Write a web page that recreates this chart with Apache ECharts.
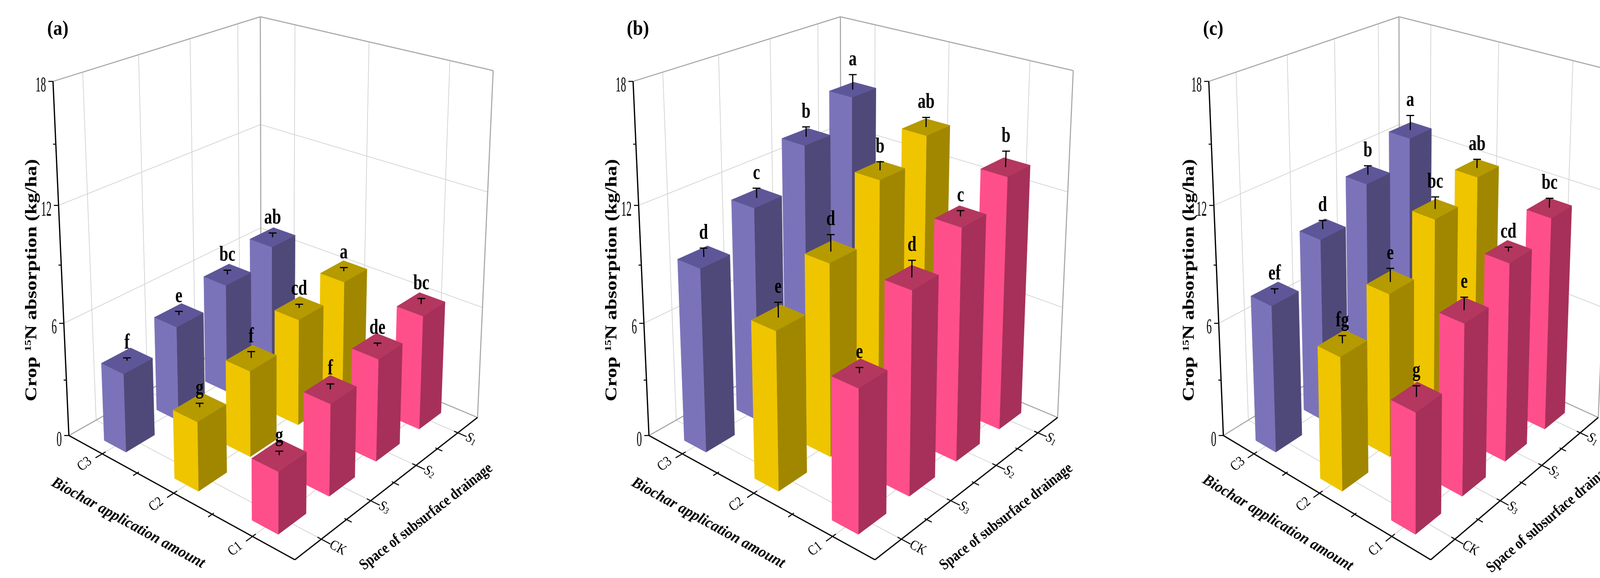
<!DOCTYPE html>
<html>
<head>
<meta charset="utf-8">
<script src="https://cdn.jsdelivr.net/npm/echarts@6.0.0/dist/echarts.min.js"></script>
<style>
html,body{margin:0;padding:0;background:#ffffff;overflow:hidden;}
#main{width:4282px;height:1479px;}
</style>
</head>
<body>
<div id="main"></div>
<script>
// ================= DATA =================
const biocharLevels = ['C3', 'C2', 'C1'];          // x axis (front-left)
const drainageLevels = ['CK', 'S3', 'S2', 'S1'];   // y axis (front-right)
const zAxisTicks = [0, 6, 12, 18];
const zAxisMinorTicks = [3, 9, 15];
const zAxisMax = 18;
const panelLabels = ['(a)', '(b)', '(c)'];
const biocharTitle = 'Biochar application amount';
const drainageTitle = 'Space of subsurface drainage';

// Panel (a): values per biochar level, across CK, S3, S2, S1
const a_C3 = [4.14, 5.10, 5.95, 6.77];
const a_C2 = [3.54, 4.50, 5.68, 6.32];
const a_C1 = [3.08, 4.67, 5.33, 6.08];
const a_C3_err = [0.15, 0.2, 0.24, 0.24];
const a_C2_err = [0.2, 0.33, 0.2, 0.2];
const a_C1_err = [0.2, 0.27, 0.15, 0.3];
const a_C3_sig = ['f', 'e', 'bc', 'ab'];
const a_C2_sig = ['g', 'f', 'cd', 'a'];
const a_C1_sig = ['g', 'f', 'de', 'bc'];

// Panel (b)
const b_C3 = [9.50, 11.30, 13.40, 14.95];
const b_C2 = [8.03, 9.95, 12.87, 14.05];
const b_C1 = [7.05, 10.17, 11.87, 13.18];
const b_C3_err = [0.45, 0.5, 0.52, 0.8];
const b_C2_err = [0.75, 0.85, 0.43, 0.5];
const b_C1_err = [0.27, 0.82, 0.28, 0.8];
const b_C3_sig = ['d', 'c', 'b', 'a'];
const b_C2_sig = ['e', 'd', 'b', 'ab'];
const b_C1_sig = ['e', 'd', 'c', 'b'];

// Panel (c)
const c_C3 = [7.63, 9.68, 11.39, 12.75];
const c_C2 = [6.76, 8.42, 10.89, 11.90];
const c_C1 = [5.92, 8.59, 10.13, 11.12];
const c_C3_err = [0.25, 0.45, 0.48, 0.8];
const c_C2_err = [0.38, 0.69, 0.62, 0.46];
const c_C1_err = [0.53, 0.63, 0.22, 0.48];
const c_C3_sig = ['ef', 'd', 'b', 'a'];
const c_C2_sig = ['fg', 'e', 'bc', 'ab'];
const c_C1_sig = ['g', 'e', 'cd', 'bc'];

const panelValues = [[a_C3, a_C2, a_C1], [b_C3, b_C2, b_C1], [c_C3, c_C2, c_C1]];
const panelErrors = [[a_C3_err, a_C2_err, a_C1_err], [b_C3_err, b_C2_err, b_C1_err], [c_C3_err, c_C2_err, c_C1_err]];
const panelSig = [[a_C3_sig, a_C2_sig, a_C1_sig], [b_C3_sig, b_C2_sig, b_C1_sig], [c_C3_sig, c_C2_sig, c_C1_sig]];

// ================= STYLE / LAYOUT =================
const ROW_COLORS = [
  { top: '#5d5799', light: '#7b73b9', dark: '#4f4979' },  // C3 purple
  { top: '#b59a00', light: '#efc500', dark: '#a18700' },  // C2 yellow
  { top: '#b3375f', light: '#ff4f8b', dark: '#a6305a' }   // C1 pink
];
const FONT = '"Liberation Serif", "Times New Roman", serif';
const PANEL_OFFSET_X = [0, 1485, 2970];
const PANEL_W = 1430, PANEL_H = 1479;
const BAR_HALF_U = 0.053, BAR_HALF_V = 0.067;
const PANEL_LABEL_POS = [148, 76];
const ZTITLE_POS = [82, 717];
// Calibration of the 3D frame (unit box u,v,w) onto the panel (local px)
const FRAME_ANCHORS = [
  [0,0,0, 177,1113],[0,0,1, 135,208],[0,1,1, 666,42],[1,1,1, 1263,182],[1,1,0, 1222,1068],[1,0,0, 755,1432],
  [0,1,2/3, 666,321],[1,1,2/3, 1248,491],[1,1,1/3, 1234,785],[0,0,2/3, 150,528],[0,0,1/3, 164,830],
  [1,1/8,0, 823,1380],[1,3/8,0, 952,1282],[1,5/8,0, 1067,1192],[1,7/8,0, 1173,1108],
  [1/6,0,0, 261,1160],[1/2,0,0, 443,1263],[5/6,0,0, 643,1370],
  [0,1/8,1, 212,184],[0,3/8,1, 356,139],[0,5/8,1, 488,98],[0,7/8,1, 609,60],
  [1/6,1,1, 755,63],[1/2,1,1, 944,107],[5/6,1,1, 1151,156]
];

// ---- solve projective camera (DLT, p23 = 1) ----
function solveCamera(anchors) {
  const N = 11;
  const M = Array.from({ length: N }, () => new Array(N).fill(0));
  const r = new Array(N).fill(0);
  const add = (row, val) => {
    for (let i = 0; i < N; i++) { r[i] += row[i] * val; for (let j = 0; j < N; j++) M[i][j] += row[i] * row[j]; }
  };
  anchors.forEach(([u, v, w, X, Y]) => {
    const x = X / 1000, y = Y / 1000;
    add([u, v, w, 1, 0, 0, 0, 0, -x * u, -x * v, -x * w], x);
    add([0, 0, 0, 0, u, v, w, 1, -y * u, -y * v, -y * w], y);
  });
  for (let c = 0; c < N; c++) {
    let piv = c;
    for (let k = c + 1; k < N; k++) if (Math.abs(M[k][c]) > Math.abs(M[piv][c])) piv = k;
    [M[c], M[piv]] = [M[piv], M[c]]; [r[c], r[piv]] = [r[piv], r[c]];
    for (let k = 0; k < N; k++) {
      if (k === c) continue;
      const f = M[k][c] / M[c][c];
      if (!f) continue;
      for (let m = c; m < N; m++) M[k][m] -= f * M[c][m];
      r[k] -= f * r[c];
    }
  }
  return r.map((val, i) => val / M[i][i]);
}
const CAM = solveCamera(FRAME_ANCHORS);
function project(u, v, w) {
  const p = CAM;
  const d = p[8] * u + p[9] * v + p[10] * w + 1;
  return [(p[0] * u + p[1] * v + p[2] * w + p[3]) / d * 1000, (p[4] * u + p[5] * v + p[6] * w + p[7]) / d * 1000, d];
}

// ================= RENDER HELPERS =================
function seg(p, q, style, z2) {
  return { type: 'line', z2: z2 || 0, shape: { x1: p[0], y1: p[1], x2: q[0], y2: q[1] }, style: Object.assign({}, style) };
}
function txt(x, y, text, o) {
  const st = { text: text, fill: '#000', align: o.align || 'center', verticalAlign: o.va || 'middle' };
  if (o.font) st.font = o.font;
  if (o.rich) st.rich = o.rich;
  return { type: 'text', x: x, y: y, rotation: o.rot || 0, scaleX: o.sx || 1, scaleY: o.sy || 1, z2: o.z2 || 5, style: st };
}
function area(pts) {
  let s = 0;
  for (let i = 0; i < pts.length; i++) { const a = pts[i], b = pts[(i + 1) % pts.length]; s += a[0] * b[1] - b[0] * a[1]; }
  return s / 2;
}

function frameElements(pi, P) {
  const els = [];
  const grid = { stroke: '#cdcdcd', lineWidth: 1.6 };
  const edge = { stroke: '#a8a8a8', lineWidth: 2.8 };
  const axis = { stroke: '#000', lineWidth: 3.2 };
  const tick = { stroke: '#000', lineWidth: 2.6 };
  const L = (a, b, st) => els.push(seg(P(a), P(b), st));
  const uT = biocharLevels.map((_, i) => (i + 0.5) / biocharLevels.length);
  const vT = drainageLevels.map((_, j) => (j + 0.5) / drainageLevels.length);
  const wT = zAxisTicks.map(t => t / zAxisMax);
  // floor grid
  uT.forEach(u => L([u, 0, 0], [u, 1, 0], grid));
  vT.forEach(v => L([0, v, 0], [1, v, 0], grid));
  // left wall (u = 0)
  vT.forEach(v => L([0, v, 0], [0, v, 1], grid));
  wT.filter(w => w > 0 && w < 1).forEach(w => L([0, 0, w], [0, 1, w], grid));
  // back wall (v = 1)
  uT.forEach(u => L([u, 1, 0], [u, 1, 1], grid));
  wT.filter(w => w > 0 && w < 1).forEach(w => L([0, 1, w], [1, 1, w], grid));
  // frame edges
  L([0, 0, 1], [0, 1, 1], edge); L([0, 1, 1], [1, 1, 1], edge);
  L([0, 1, 0], [0, 1, 1], edge); L([1, 1, 0], [1, 1, 1], edge);
  L([0, 0, 0], [0, 1, 0], edge); L([0, 1, 0], [1, 1, 0], edge);
  // axes
  L([0, 0, 0], [1, 0, 0], axis); L([1, 0, 0], [1, 1, 0], axis); L([0, 0, 0], [0, 0, 1], axis);
  // ticks: biochar axis
  uT.forEach(u => L([u, -0.03, 0], [u, 0.015, 0], tick));
  [1 / 3, 2 / 3].forEach(u => L([u, -0.018, 0], [u, 0.008, 0], tick));
  // drainage axis
  vT.forEach(v => L([0.985, v, 0], [1.035, v, 0], tick));
  [1 / 4, 1 / 2, 3 / 4].forEach(v => L([0.992, v, 0], [1.02, v, 0], tick));
  // z axis
  zAxisTicks.forEach(t => { const p = P([0, 0, t / zAxisMax]); els.push(seg([p[0] - 12, p[1]], p, tick)); });
  zAxisMinorTicks.forEach(t => { const p = P([0, 0, t / zAxisMax]); els.push(seg([p[0] - 7, p[1]], p, tick)); });

  const ang = (a, b) => { const p = P(a), q = P(b); return Math.atan2(q[1] - p[1], q[0] - p[0]); };
  const rotU = -ang([0, 0, 0], [1, 0, 0]);
  const rotV = -ang([1, 0, 0], [1, 1, 0]);

  // z tick labels
  zAxisTicks.forEach(t => {
    const p = P([0, 0, t / zAxisMax]);
    els.push(txt(p[0] - 18, p[1] + 12, String(t), { font: '54px ' + FONT, align: 'right', sx: 0.5 }));
  });
  // biochar tick labels
  biocharLevels.forEach((lab, i) => {
    const p = P([uT[i], -0.078, 0]);
    els.push(txt(p[0], p[1], lab, { font: '36px ' + FONT, rot: rotV, sx: 0.85 }));
  });
  // drainage tick labels
  drainageLevels.forEach((lab, j) => {
    const p = P([1.035, vT[j], 0]);
    let text = lab, rich;
    if (/^S\d$/.test(lab)) {
      text = '{m|S}{s|' + lab.slice(1) + '}';
      rich = { m: { fontSize: 36, fontFamily: FONT }, s: { fontSize: 24, fontFamily: FONT, verticalAlign: 'bottom' } };
    }
    els.push(txt(p[0], p[1], text, { font: '36px ' + FONT, rot: rotU, sx: 0.85, align: 'left', rich: rich }));
  });
  // axis titles
  const pb = P([0.5, -0.2, 0]);
  els.push(txt(pb[0], pb[1], biocharTitle, { font: 'italic bold 40px ' + FONT, rot: rotU, sx: 0.95 }));
  const pd = P([1.18, 0.42, 0]);
  els.push(txt(pd[0], pd[1], drainageTitle, { font: 'bold 40px ' + FONT, rot: rotV, sx: 0.84 }));
  return els;
}

function barElements(pi, i, j, order, P) {
  const h = panelValues[pi][i][j] / zAxisMax;
  const e = panelErrors[pi][i][j] / zAxisMax;
  const uc = (i + 0.5) / biocharLevels.length, vc = (j + 0.5) / drainageLevels.length;
  const u0 = uc - BAR_HALF_U, u1 = uc + BAR_HALF_U, v0 = vc - BAR_HALF_V, v1 = vc + BAR_HALF_V;
  const col = ROW_COLORS[i];
  const faces = [
    { pts: [[u1, v0, 0], [u1, v1, 0], [u1, v1, h], [u1, v0, h]], fill: col.dark },
    { pts: [[u0, v0, 0], [u0, v0, h], [u0, v1, h], [u0, v1, 0]], fill: col.dark },
    { pts: [[u0, v1, 0], [u0, v1, h], [u1, v1, h], [u1, v1, 0]], fill: col.dark },
    { pts: [[u0, v0, 0], [u1, v0, 0], [u1, v0, h], [u0, v0, h]], fill: col.light },
    { pts: [[u0, v0, h], [u1, v0, h], [u1, v1, h], [u0, v1, h]], fill: col.top }
  ];
  const topPts = faces[4].pts.map(P);
  const sTop = Math.sign(area(topPts));
  const z = 100 + order * 10;
  const els = [];
  faces.forEach((f, k) => {
    const pts = f.pts.map(P);
    const a = area(pts);
    if (k < 4 && (Math.sign(a) !== sTop || Math.abs(a) < 1)) return;
    els.push({ type: 'polygon', z2: z + (k === 4 ? 2 : 1), shape: { points: pts },
      style: { fill: f.fill, stroke: f.fill, lineWidth: 0.8 } });
  });
  const p0 = P([uc, vc, h]), p1 = P([uc, vc, h + e]);
  els.push(seg(p0, p1, { stroke: '#000', lineWidth: 3 }, z + 3));
  els.push(seg([p1[0] - 10, p1[1]], [p1[0] + 10, p1[1]], { stroke: '#000', lineWidth: 3 }, z + 3));
  return els;
}

function letterElements(pi, i, j, P) {
  const h = (panelValues[pi][i][j] + panelErrors[pi][i][j]) / zAxisMax;
  const uc = (i + 0.5) / biocharLevels.length, vc = (j + 0.5) / drainageLevels.length;
  const p = P([uc, vc, h]);
  return [txt(p[0], p[1] - 11, panelSig[pi][i][j], { font: 'bold 54px ' + FONT, va: 'bottom', sx: 0.76, z2: 2000 })];
}

function makeRenderItem(pi) {
  return function (params, api) {
    const kind = api.value(0), i = api.value(1), j = api.value(2), order = api.value(3);
    const P = (q) => { const s = project(q[0], q[1], q[2]); return api.coord([s[0], s[1]]); };
    let children;
    if (kind === 0) {
      children = frameElements(pi, P);
      const pl = api.coord(PANEL_LABEL_POS);
      children.push(txt(pl[0], pl[1], panelLabels[pi], { font: 'bold 52px ' + FONT, sx: 0.9 }));
      const pt = api.coord(ZTITLE_POS);
      children.push(txt(pt[0], pt[1], '{a|Crop }{b|15}{a|N absorption (kg/ha)}', {
        rot: Math.PI / 2, sy: 0.8,
        rich: { a: { fontSize: 52, fontWeight: 'bold', fontFamily: FONT },
                b: { fontSize: 30, fontWeight: 'bold', fontFamily: FONT, verticalAlign: 'top' } }
      }));
    } else if (kind === 1) {
      children = barElements(pi, i, j, order, P);
    } else {
      children = letterElements(pi, i, j, P);
    }
    return { type: 'group', children: children };
  };
}

// ================= OPTION =================
const grids = [], xAxes = [], yAxes = [], series = [];
panelLabels.forEach((_, pi) => {
  grids.push({ left: PANEL_OFFSET_X[pi], top: 0, width: PANEL_W, height: PANEL_H, containLabel: false });
  xAxes.push({ type: 'value', gridIndex: pi, min: 0, max: PANEL_W, show: false });
  yAxes.push({ type: 'value', gridIndex: pi, min: 0, max: PANEL_H, inverse: true, show: false });
  const items = [[0, 0, 0, 0]];
  const bars = [];
  biocharLevels.forEach((_, i) => drainageLevels.forEach((_, j) => {
    const uc = (i + 0.5) / biocharLevels.length, vc = (j + 0.5) / drainageLevels.length;
    bars.push({ i: i, j: j, d: project(uc, vc, 0)[2] });
  }));
  bars.sort((a, b) => b.d - a.d);
  bars.forEach((b, k) => items.push([1, b.i, b.j, k]));
  bars.forEach(b => items.push([2, b.i, b.j, 0]));
  series.push({
    type: 'custom', coordinateSystem: 'cartesian2d', xAxisIndex: pi, yAxisIndex: pi,
    data: items, renderItem: makeRenderItem(pi), silent: true, animation: false, clip: false
  });
});

const chart = echarts.init(document.getElementById('main'), null, { renderer: 'canvas' });
chart.setOption({
  backgroundColor: '#ffffff',
  animation: false,
  grid: grids, xAxis: xAxes, yAxis: yAxes, series: series
});
</script>
</body>
</html>
